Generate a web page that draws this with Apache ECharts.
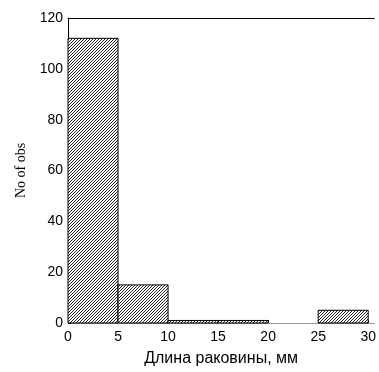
<!DOCTYPE html>
<html>
<head>
<meta charset="utf-8">
<script src="https://cdn.jsdelivr.net/npm/echarts@6/dist/echarts.min.js"></script>
<style>
  html, body { margin: 0; padding: 0; background: #fff; }
  #chart { width: 379px; height: 372px; }
</style>
</head>
<body>
<div id="chart"></div>
<script>
// интервалы гистограммы и частоты
let binStart = [0, 5, 10, 15, 20, 25]
let binEnd = [5, 10, 15, 20, 25, 30]
let counts = [112, 15, 1, 1, 0, 5]
let yTicks = [0, 20, 40, 60, 80, 100, 120]

// штриховка "////"
function hatch () {
    let c = document.createElement('canvas')
    c.width = 3
    c.height = 3
    let ctx = c.getContext('2d')
    ctx.fillStyle = '#fff'
    ctx.fillRect(0, 0, 3, 3)
    ctx.fillStyle = '#222'
    for (let i = 0; i < 3; i++) {
        ctx.fillRect(i, 2 - i, 1, 1)
    }
    return c
}
let pattern = { image: hatch(), repeat: 'repeat' }

let data = binStart.map((s, i) => [s, binEnd[i], counts[i]])

let myChart = echarts.init(document.getElementById('chart'))
myChart.setOption({
    animation: false,
    grid: { left: 68, right: 3, top: 18, bottom: 47 },
    xAxis: [{
        type: 'value',
        min: 0,
        max: 30.6,
        interval: 5,
        name: 'Длина раковины, мм',
        nameLocation: 'middle',
        nameGap: 28,
        nameTextStyle: { fontFamily: 'Liberation Sans', fontSize: 16, color: '#000' },
        axisLine: { show: true, onZero: false, lineStyle: { color: '#999', width: 1 } },
        axisTick: { show: true, inside: true, length: 3, lineStyle: { color: '#000' } },
        splitLine: { show: false },
        axisLabel: {
            fontFamily: 'Liberation Sans', fontSize: 14, color: '#000', margin: 7,
            showMaxLabel: false,
            formatter: v => (v % 5 === 0 ? v : '')
        }
    }, {
        type: 'value',
        position: 'top',
        min: 0,
        max: 30.6,
        axisLine: { show: true, onZero: false, lineStyle: { color: '#000', width: 1 } },
        axisTick: { show: false },
        axisLabel: { show: false },
        splitLine: { show: false }
    }],
    yAxis: {
        type: 'value',
        min: yTicks[0],
        max: yTicks[yTicks.length - 1],
        interval: 20,
        name: 'No of obs',
        nameLocation: 'middle',
        nameGap: 40,
        nameTextStyle: { fontFamily: 'Liberation Serif', fontSize: 14, color: '#000' },
        axisLine: { show: true, lineStyle: { color: '#000', width: 1 } },
        axisTick: { show: true, inside: true, length: 3, lineStyle: { color: '#000' } },
        splitLine: { show: false },
        axisLabel: { fontFamily: 'Liberation Sans', fontSize: 14, color: '#000', margin: 5 }
    },
    series: [{
        type: 'custom',
        data: data,
        encode: { x: [0, 1], y: 2 },
        renderItem: function (params, api) {
            let p0 = api.coord([api.value(0), 0])
            let p1 = api.coord([api.value(1), api.value(2)])
            if (api.value(2) <= 0) return null
            return {
                type: 'rect',
                shape: { x: p0[0], y: p1[1], width: p1[0] - p0[0], height: p0[1] - p1[1] },
                style: { fill: pattern, stroke: '#000', lineWidth: 1 }
            }
        }
    }]
})
</script>
</body>
</html>
